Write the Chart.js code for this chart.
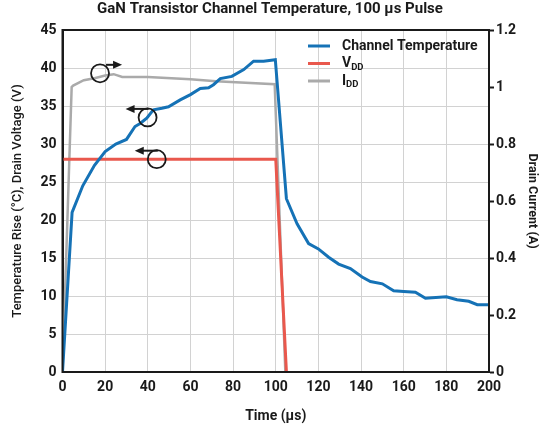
<!DOCTYPE html>
<html>
<head>
<meta charset="utf-8">
<script src="https://cdn.jsdelivr.net/npm/chart.js@4.4.1/dist/chart.umd.min.js"></script>
<style>
  html, body { margin: 0; padding: 0; background: #fff; }
</style>
</head>
<body>
<canvas id="gan_chart" width="540" height="428"></canvas>
<script>
// channel temperature rise (left axis, °C)
let temp_time = [0, 4.5, 9.5, 15, 20, 25, 30, 34, 36.4, 39.5, 42.6, 46.6, 49.7, 55.2, 60, 64.6, 68.5, 70.8, 74, 79.4, 85, 89.6, 94.3, 99.8,
                 105, 110, 115.4, 120, 124.8, 129.5, 135, 140.5, 144.4, 150, 155.3, 160, 165.5, 170.2, 180, 185, 190.5, 194.5, 200];
let temp_values = [0, 21, 24.5, 27.2, 29, 30, 30.6, 32.3, 32.7, 33.4, 34.5, 34.7, 34.9, 35.8, 36.5, 37.3, 37.4, 37.8, 38.6, 38.9, 39.8, 40.9, 40.9, 41.1,
                   22.8, 19.5, 16.9, 16.2, 15.1, 14.2, 13.6, 12.5, 11.9, 11.6, 10.7, 10.6, 10.5, 9.7, 9.9, 9.5, 9.3, 8.85, 8.85];

// drain voltage (left axis, V)
let vdd_time = [0, 100, 105];
let vdd_values = [28, 28, 0];

// drain current (right axis, A)
let idd_time = [0, 4.3, 5, 10, 15, 20, 24, 28, 40, 60, 72, 99.5, 104.5];
let idd_values = [0, 1.0, 1.005, 1.024, 1.031, 1.04, 1.045, 1.035, 1.035, 1.027, 1.02, 1.01, 0];

let series_labels = ["Channel Temperature", "V_DD", "I_DD"];
let series_colors = ["#1572b6", "#e9584d", "#aaaaaa"];

// circle + arrow markers telling which axis a curve belongs to
let marker_x = [17.6, 39.9, 44.2];
let marker_y = [39.3, 33.5, 28.0];
let marker_dir = [1, -1, -1];

let x_ticks = [0, 20, 40, 60, 80, 100, 120, 140, 160, 180, 200];

const ink = "#1a1a1a";
const grid_color = "#d2d2d2";

function to_points(xs, ys) {
  let pts = [];
  xs.forEach((x, i) => pts.push({x: x, y: ys[i]}));
  return pts;
}

const frame_plugin = {
  id: "frame",
  afterDatasetsDraw(chart) {
    const ctx = chart.ctx;
    const a = chart.chartArea;
    ctx.save();
    ctx.strokeStyle = ink;
    ctx.lineWidth = 2;
    ctx.strokeRect(a.left, a.top, a.right - a.left, a.bottom - a.top);
    ctx.restore();
  }
};

const marker_plugin = {
  id: "markers",
  afterDatasetsDraw(chart) {
    const ctx = chart.ctx;
    const xs = chart.scales.x;
    const ys = chart.scales.y;
    ctx.save();
    ctx.strokeStyle = ink;
    ctx.fillStyle = ink;
    ctx.lineWidth = 1.8;
    marker_x.forEach((mx, i) => {
      const cx = xs.getPixelForValue(mx);
      const cy = ys.getPixelForValue(marker_y[i]);
      const d = marker_dir[i];
      ctx.beginPath();
      ctx.arc(cx, cy, 9, 0, Math.PI * 2);
      ctx.stroke();
      const ay = cy - 8.5;
      const x0 = cx + (d > 0 ? 6 : 1);
      const x1 = cx + d * 22;
      ctx.lineWidth = 2;
      ctx.beginPath();
      ctx.moveTo(x0, ay);
      ctx.lineTo(x1 - d * 6, ay);
      ctx.stroke();
      ctx.beginPath();
      ctx.moveTo(x1, ay);
      ctx.lineTo(x1 - d * 9, ay - 4);
      ctx.lineTo(x1 - d * 9, ay + 4);
      ctx.closePath();
      ctx.fill();
      ctx.lineWidth = 1.8;
    });
    ctx.restore();
  }
};

const legend_plugin = {
  id: "inner_legend",
  afterDraw(chart) {
    const ctx = chart.ctx;
    const a = chart.chartArea;
    const lx = a.right - 181;
    let ly = a.top + 16;
    ctx.save();
    ctx.textBaseline = "middle";
    chart.data.datasets.forEach(ds => {
      ctx.strokeStyle = ds.borderColor;
      ctx.lineWidth = 3;
      ctx.beginPath();
      ctx.moveTo(lx, ly);
      ctx.lineTo(lx + 22, ly);
      ctx.stroke();
      let parts = ds.label.split("_");
      ctx.fillStyle = ink;
      ctx.font = "bold 14px Roboto";
      ctx.fillText(parts[0], lx + 34, ly);
      if (parts[1]) {
        let w = ctx.measureText(parts[0]).width;
        ctx.font = "bold 9.5px Roboto";
        ctx.fillText(parts[1], lx + 34 + w, ly + 4);
      }
      ly += 17.5;
    });
    ctx.restore();
  }
};

new Chart("gan_chart", {
  type: "line",
  data: {
    datasets: [{
      label: series_labels[0],
      data: to_points(temp_time, temp_values),
      borderColor: series_colors[0],
      borderWidth: 3,
      yAxisID: "y",
      order: 0
    },
    {
      label: series_labels[1],
      data: to_points(vdd_time, vdd_values),
      borderColor: series_colors[1],
      borderWidth: 3,
      yAxisID: "y",
      order: 1
    },
    {
      label: series_labels[2],
      data: to_points(idd_time, idd_values),
      borderColor: series_colors[2],
      borderWidth: 2.5,
      yAxisID: "y1",
      order: 2
    }]
  },
  options: {
    responsive: false,
    animation: false,
    elements: {
      point: { radius: 0 },
      line: { tension: 0, fill: false }
    },
    layout: { padding: 0 },
    plugins: {
      legend: { display: false },
      tooltip: { enabled: false },
      title: {
        display: true,
        text: "GaN Transistor Channel Temperature, 100 µs Pulse",
        color: ink,
        font: { family: "Roboto", size: 15, weight: "bold", lineHeight: 1.2 },
        padding: { top: 0, bottom: 12 }
      }
    },
    scales: {
      x: {
        type: "linear",
        min: 0,
        max: 200,
        afterBuildTicks: s => { s.ticks = x_ticks.map(v => ({value: v})); },
        afterFit: s => { s.height = 56; },
        ticks: { color: ink, padding: 7, font: { family: "Roboto", size: 14, weight: "bold" } },
        grid: { color: grid_color, drawTicks: false },
        border: { color: ink, width: 2 },
        title: {
          display: true,
          text: "Time (µs)",
          color: ink,
          font: { family: "Roboto", size: 14, weight: "bold", lineHeight: 1.2 },
          padding: { top: 0, bottom: 3 }
        }
      },
      y: {
        position: "left",
        min: 0,
        max: 45,
        afterFit: s => { s.width = 62.5; },
        ticks: { stepSize: 5, color: ink, padding: 6, font: { family: "Roboto", size: 14, weight: "bold" } },
        grid: { color: grid_color, drawTicks: false },
        border: { color: ink, width: 2 },
        title: {
          display: true,
          text: "Temperature Rise (°C), Drain Voltage (V)",
          color: ink,
          font: { family: "Roboto", size: 13, weight: "500", lineHeight: 1.2 },
          padding: { top: 10, bottom: 0 }
        }
      },
      y1: {
        position: "right",
        min: 0,
        max: 1.2,
        afterFit: s => { s.width = 51; },
        ticks: {
          stepSize: 0.2,
          color: ink,
          padding: 2,
          font: { family: "Roboto", size: 14, weight: "bold" },
          callback: v => String(+v.toFixed(1))
        },
        grid: { drawOnChartArea: false, drawTicks: true, tickLength: 5, tickColor: ink, tickWidth: 2 },
        border: { color: ink, width: 2 },
        title: {
          display: true,
          text: "Drain Current (A)",
          color: ink,
          font: { family: "Roboto", size: 12.5, weight: "bold", lineHeight: 1.2 },
          padding: { top: 0.5, bottom: 0 }
        }
      }
    }
  },
  plugins: [frame_plugin, marker_plugin, legend_plugin]
});
</script>
</body>
</html>
